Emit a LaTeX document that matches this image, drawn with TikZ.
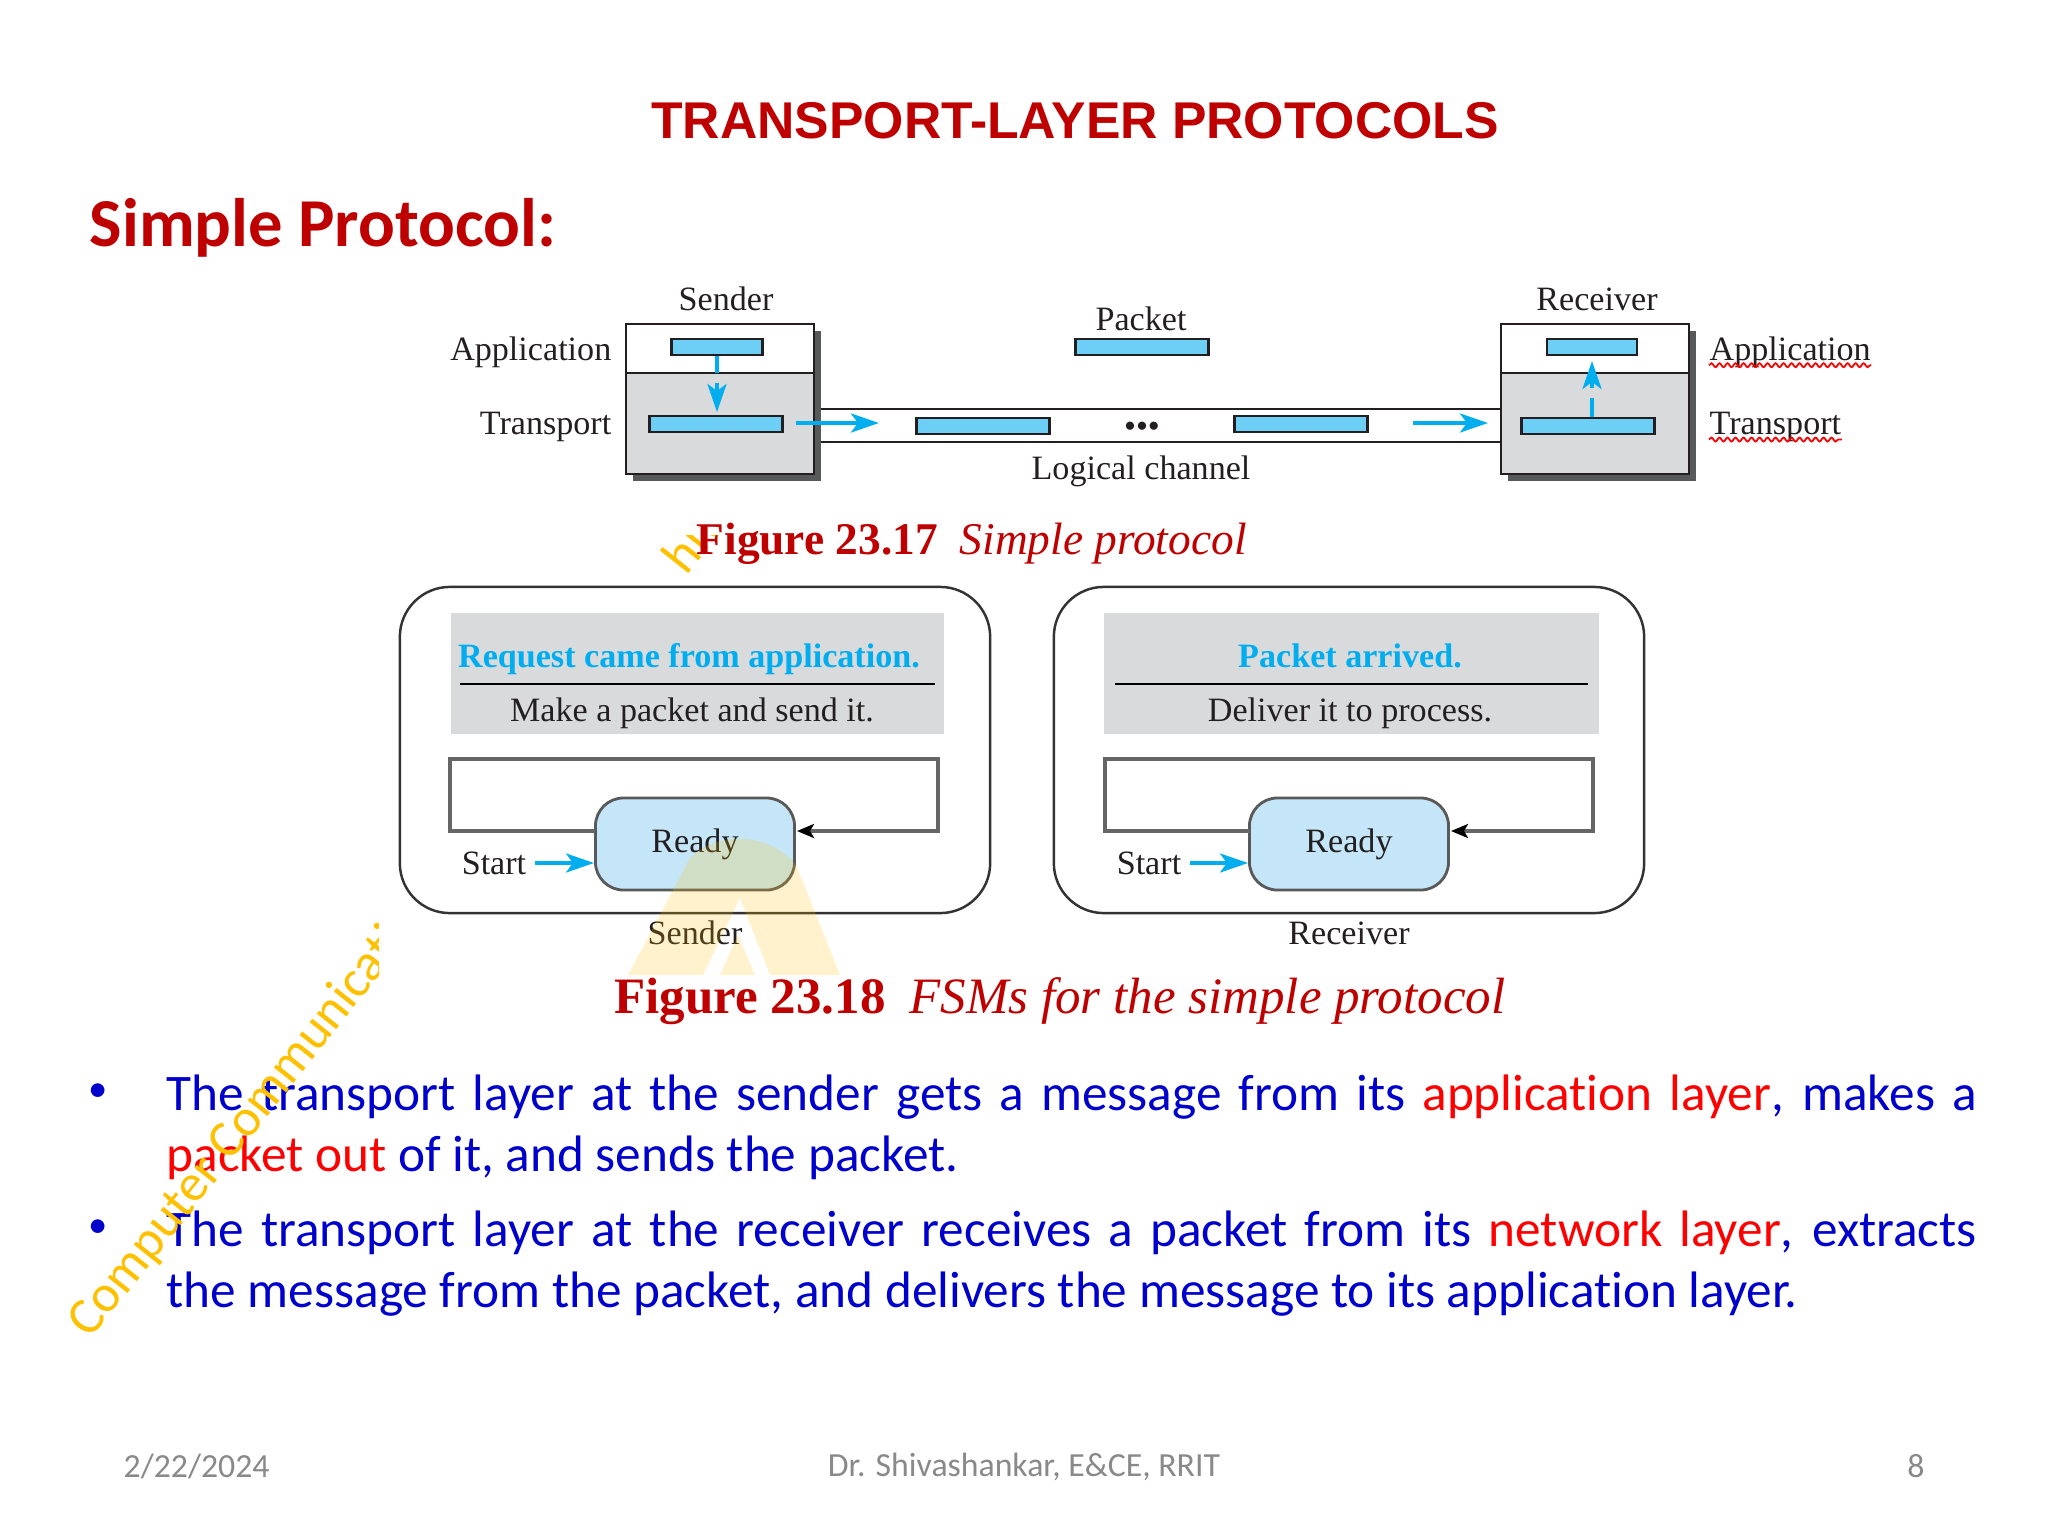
\documentclass[tikz,border=0pt]{standalone}
\usepackage{fontspec}
\setmainfont{Liberation Serif}
\setsansfont{Carlito}[Ligatures=CommonOff]
\newfontfamily\headfont{Liberation Sans}
\usepackage{tikz}
\usetikzlibrary{arrows.meta, decorations.pathmorphing}
\definecolor{deepred}{HTML}{BE0000}
\definecolor{pktblue}{HTML}{6DCFF6}
\definecolor{flowblue}{HTML}{00AEEF}
\definecolor{panelgray}{HTML}{D9DADB}
\definecolor{shadowgray}{HTML}{58595B}
\definecolor{inkgray}{HTML}{231F20}
\definecolor{readyblue}{HTML}{C5E6F8}
\definecolor{bodyblue}{HTML}{0000CC}
\definecolor{markyellow}{HTML}{FFC000}
\definecolor{footgray}{HTML}{898989}

\begin{document}
\begin{tikzpicture}[x = .01cm, y = -.01cm, >={Stealth[length=.28cm, width=.19cm, inset=.07cm]}]
  \tikzstyle{label} = [inner sep = 0, text = inkgray, font = \fontsize{9.7}{11}\selectfont]
  \tikzstyle{capt} = [inner sep = 0, text = deepred]
  \tikzstyle{packet} = [draw = inkgray, fill = pktblue, line width = .7pt, inner sep = 0, minimum height = .155cm]
  \tikzstyle{layerbox} = [draw = inkgray, line width = .8pt, inner sep = 0, minimum width = 1.88cm]
  \tikzstyle{flow} = [->, flowblue, line width = 1.1pt]
  \tikzstyle{panel} = [draw = black!80, line width = .7pt, rounded corners = .5cm, inner sep = 0, minimum width = 5.9cm, minimum height = 3.26cm]
  \tikzstyle{graybox} = [fill = panelgray, inner sep = 0, minimum width = 4.93cm, minimum height = 1.21cm]
  \tikzstyle{state} = [draw = black!65, fill = readyblue, line width = .8pt, rounded corners = .28cm, inner sep = 0, minimum width = 1.99cm, minimum height = .92cm]
  \tikzstyle{loopline} = [draw = black!60, line width = 1pt, -{Stealth[length=.17cm, width=.14cm, inset=.04cm, black]}]
  \tikzstyle{spell} = [red, line width = .5pt, decorate, decoration = {snake, segment length = .08cm, amplitude = .02cm}]
  \tikzstyle{bodytext} = [inner sep = 0, anchor = north west, text width = 18.09cm, align = justify, text = bodyblue, font = \sffamily\fontsize{14.58}{17.4}\selectfont]
  \tikzstyle{dotmark} = [inner sep = 0, text = bodyblue, font = \sffamily\fontsize{11}{13}\selectfont]
  \tikzstyle{foot} = [inner sep = 0, text = footgray, font = \sffamily\fontsize{9.6}{12}\selectfont]
  \tikzstyle{markup} = [inner sep = 0, text = markyellow, rotate = 51.5, font = \sffamily\fontsize{14.9}{18}\selectfont]

  \useasboundingbox (0,0) rectangle (2048,1536);

  % headings
  \node[inner sep = 0, text = deepred, font = \headfont\bfseries\fontsize{14.7}{18}\selectfont] (title) at (1075,121) {TRANSPORT-LAYER PROTOCOLS};
  \node[inner sep = 0, anchor = west, text = deepred, font = \sffamily\bfseries\fontsize{19.5}{22}\selectfont] (heading) at (89,228) {Simple Protocol:};

  % figure 23.17
  \node[draw = inkgray, fill = white, line width = .8pt, inner sep = 0, minimum width = 6.9cm, minimum height = .33cm] (channel) at (1160,425.5) {};
  \node[fill = shadowgray, inner sep = 0, minimum width = 1.88cm, minimum height = 1.5cm] (sendshadow) at (727,406) {};
  \node[fill = shadowgray, inner sep = 0, minimum width = 1.88cm, minimum height = 1.5cm] (recvshadow) at (1602,406) {};
  \node[layerbox, fill = white, minimum height = .49cm] (sendapp) at (720,348.5) {};
  \node[layerbox, fill = panelgray, minimum height = 1.01cm] (sendtrans) at (720,423.5) {};
  \node[layerbox, fill = white, minimum height = .49cm] (recvapp) at (1595,348.5) {};
  \node[layerbox, fill = panelgray, minimum height = 1.01cm] (recvtrans) at (1595,423.5) {};

  \node[packet, minimum width = .91cm] (pktsa) at (717,347) {};
  \node[packet, minimum width = 1.33cm] (pktst) at (716,424) {};
  \node[packet, minimum width = 1.33cm] (pktc1) at (983,426) {};
  \node[packet, minimum width = 1.33cm] (pktc2) at (1301,424) {};
  \node[packet, minimum width = 1.33cm] (pkttop) at (1142,347) {};
  \node[packet, minimum width = .9cm] (pktra) at (1592,347) {};
  \node[packet, minimum width = 1.33cm] (pktrt) at (1588,426) {};
  \node[inner sep = 0, font = \fontsize{9.7}{11}\selectfont, text = inkgray] (dots) at (1142,430) {•••};

  \coordinate (sgap1) at (717,373);
  \coordinate (sgap2) at (717,383);
  \coordinate (rgap1) at (1592,398);
  \coordinate (rgap2) at (1592,388);
  \coordinate (cha1) at (796,423);
  \coordinate (cha2) at (879,423);
  \coordinate (chb1) at (1413,423);
  \coordinate (chb2) at (1488,423);
  \draw[flowblue, line width = 1.1pt] (pktsa.south -| sgap1) -- (sgap1);
  \draw[flow, shorten >= .03cm] (sgap2) -- (pktst.north -| sgap2);
  \draw[flowblue, line width = 1.1pt] (pktrt.north -| rgap1) -- (rgap1);
  \draw[flow, shorten >= .05cm] (rgap2) -- (pktra.south -| rgap2);
  \draw[flow] (cha1) -- (cha2);
  \draw[flow] (chb1) -- (chb2);

  \node[label] (lsender) at (726,299) {Sender};
  \node[label] (lpacket) at (1141,319) {Packet};
  \node[label] (lreceiver) at (1597,299) {Receiver};
  \node[label] (lchannel) at (1141,471) {Logical channel};
  \node[label, anchor = east] (lappl) at (612,352) {Application};
  \node[label, anchor = east] (ltransl) at (612,427) {Transport};
  \node[label, anchor = west] (lappr) at (1709,352) {Application};
  \node[label, anchor = west] (ltransr) at (1709,427) {Transport};
  \draw[spell] ([yshift = -.05cm]lappr.base west) -- ([yshift = -.05cm]lappr.base east);
  \draw[spell] ([yshift = -.05cm]ltransr.base west) -- ([yshift = -.05cm]ltransr.base east);

  \begin{scope}
    \clip (655,535) rectangle (720,575);
    \node[markup] (markhi) at (692,540) {hiv};
  \end{scope}
  \node[capt, anchor = west, font = \fontsize{12.9}{14}\selectfont] (capone) at (696,544) {\textbf{Figure 23.17}\hspace{.22cm}\textit{Simple protocol}};

  % figure 23.18, sender
  \node[panel] (sendpanel) at (695,750) {};
  \node[graybox] (sendgray) at (697.5,673.5) {};
  \node[label, font = \bfseries\fontsize{9.7}{11}\selectfont, text = flowblue] (sendevent) at (689,659) {Request came from application.};
  \node[label] (sendaction) at (692,713) {Make a packet and send it.};
  \draw[black, line width = .5pt] (460,684) -- (935,684);
  \node[state] (sendready) at (695,844) {};
  \node[label] (sendreadytxt) at (695,844) {Ready};
  \coordinate (sendin) at (595,831);
  \coordinate (sendout) at (797,831);
  \draw[loopline] (sendin) -- (450,831) -- (450,759) -- (938,759) -- (938,831) -- (sendout);
  \node[label] (sendstart) at (494,863) {Start};
  \draw[flow] (sendstart.east) ++(.08cm,0) -- (sendready.west |- sendstart.east);
  \node[label] (sendname) at (695,933) {Sender};

  % figure 23.18, receiver
  \node[panel] (recvpanel) at (1349,750) {};
  \node[graybox, minimum width = 4.95cm] (recvgray) at (1351.5,673.5) {};
  \node[label, font = \bfseries\fontsize{9.7}{11}\selectfont, text = flowblue] (recvevent) at (1350,656) {Packet arrived.};
  \node[label] (recvaction) at (1350,713) {Deliver it to process.};
  \draw[black, line width = .5pt] (1115,684) -- (1588,684);
  \node[state] (recvready) at (1349,844) {};
  \node[label] (recvreadytxt) at (1349,844) {Ready};
  \coordinate (recvin) at (1250,831);
  \coordinate (recvout) at (1451,831);
  \draw[loopline] (recvin) -- (1105,831) -- (1105,759) -- (1593,759) -- (1593,831) -- (recvout);
  \node[label] (recvstart) at (1149,863) {Start};
  \draw[flow] (recvstart.east) ++(.08cm,0) -- (recvready.west |- recvstart.east);
  \node[label] (recvname) at (1349,933) {Receiver};

  % faint logo
  \fill[markyellow, opacity = .2, even odd rule] (628,975) -- (690,858) .. controls (715,832) and (770,830) .. (797,867) -- (840,975) -- cycle
    (703,975) -- (740,898) -- (770,975) -- cycle
    (720,975) -- (738,935) -- (755,975) -- cycle;

  \node[capt, font = \fontsize{14.5}{16}\selectfont] (captwo) at (1060,1001) {\textbf{Figure 23.18}\hspace{.24cm}\textit{FSMs for the simple protocol}};

  % bullets
  \node[dotmark] (dotone) at (98,1093) {•};
  \node[dotmark] (dottwo) at (98,1229) {•};
  \node[bodytext] (bulletone) at (166,1074) {The transport layer at the sender gets a message from its \textcolor{red}{application layer}, makes a\linebreak \textcolor{red}{packet out} of it, and sends the packet.};
  \node[bodytext] (bullettwo) at (166,1210) {The transport layer at the receiver receives a packet from its \textcolor{red}{network layer}, extracts\linebreak the message from the packet, and delivers the message to its application layer.};

  % footer
  \node[foot, anchor = west] (date) at (123,1466) {2/22/2024};
  \node[foot] (author) at (1024,1467) {Dr. Shivashankar, E\&CE, RRIT};
  \node[foot] (pageno) at (1916,1466) {8};

  \begin{scope}
    \clip (40,920) rectangle (378,1400);
    \node[markup, anchor = base west] (mark) at (90,1340) {Computer Communication};
  \end{scope}
\end{tikzpicture}
\end{document}
